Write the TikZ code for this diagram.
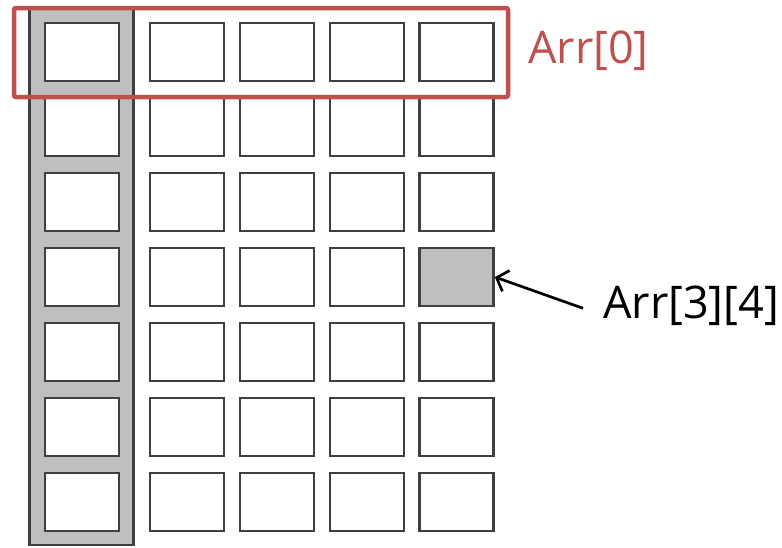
\documentclass[tikz,border=0pt]{standalone}
\usepackage{fontspec}
\setmainfont{Open Sans}
\usetikzlibrary{arrows.meta}
\definecolor{cellline}{HTML}{404040}
\definecolor{cellfill}{HTML}{BFBFBF}
\definecolor{rowred}{HTML}{C0504D}
\tikzset{
  cell/.style={draw=cellline, line width=2.7pt, fill=white, inner sep=0pt,
    minimum width=74pt, minimum height=58pt},
  pick34/.style={fill=cellfill},
  bigtext/.style={font=\fontsize{45}{50}\selectfont, inner sep=0pt},
  pointer/.style={-{Straight Barb[length=10pt,width=22pt]}, line width=2.7pt, black},
}
\begin{document}
\begin{tikzpicture}[x=1pt,y=-1pt]
\useasboundingbox (0,0) rectangle (782,547);
% shaded first column
\node[draw=cellline, line width=2.7pt, fill=cellfill, minimum width=104pt,
  minimum height=536pt, inner sep=0pt] (colbar) at (81.5,277) {};
% 7 x 5 grid of cells
\foreach \cx [count=\j from 0] in {82,187,277,367,456.5}
  \foreach \r in {0,...,6}
    \node[cell, pick\r\j/.try] (c\r\j) at (\cx,52+75*\r) {};
% highlighted first row
\node[draw=rowred, line width=4.5pt, rounded corners=2pt, minimum width=494pt,
  minimum height=89pt, inner sep=0pt] (rowbox) at (261,52.5) {};
\node[bigtext, text=rowred, anchor=base west] (lbl0) at (528,63) {Arr[0]};
% element label and pointer
\node[bigtext, anchor=base west] (lbl34) at (603,318) {Arr[3][4]};
\draw[pointer] ([xshift=-20pt,yshift=-3pt]lbl34.west) -- (c34.east);
\end{tikzpicture}
\end{document}
